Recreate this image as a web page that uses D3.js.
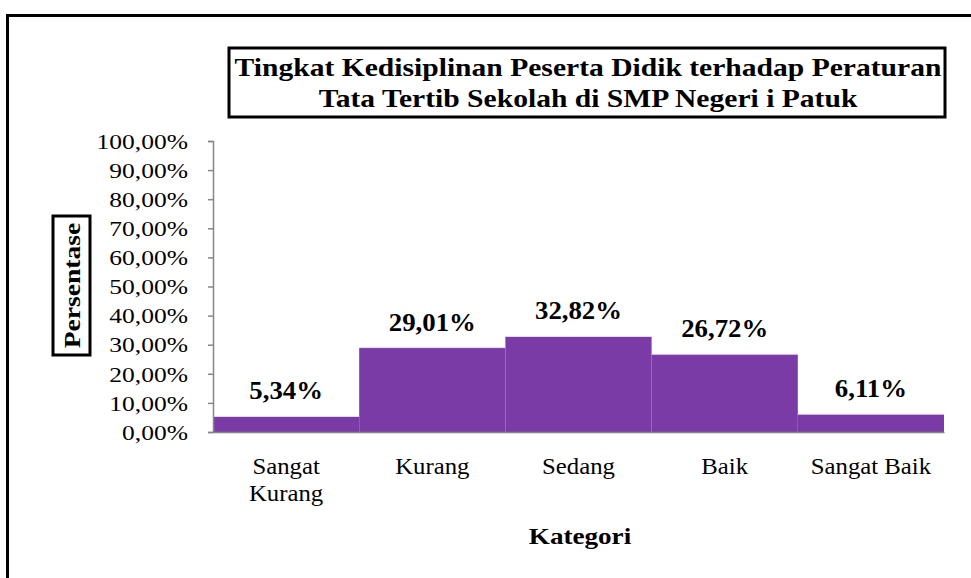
<!DOCTYPE html>
<html><head><meta charset="utf-8">
<script src="https://cdn.jsdelivr.net/npm/d3@7"></script>
<style>html,body{margin:0;padding:0;background:#fff}svg{display:block}</style>
</head><body>
<script>
const categories = [["Sangat","Kurang"],["Kurang"],["Sedang"],["Baik"],["Sangat Baik"]];
const values = [5.34, 29.01, 32.82, 26.72, 6.11];
const valueLabels = ["5,34%","29,01%","32,82%","26,72%","6,11%"];
const yTicks = [0,10,20,30,40,50,60,70,80,90,100];
const titleLines = ["Tingkat Kedisiplinan Peserta Didik terhadap Peraturan","Tata Tertib Sekolah di SMP Negeri i Patuk"];

const W=971,H=578;
const svg=d3.select("body").append("svg").attr("width",W).attr("height",H);
const font="'Liberation Serif','Times New Roman',serif";

function sText(parent,x,y,sx,txt,size,bold,rot){
  return parent.append("text")
    .attr("transform",`translate(${x},${y})`+(rot?` rotate(${rot})`:"")+` scale(${sx},1)`)
    .attr("text-anchor","middle").attr("font-family",font).attr("font-size",size)
    .attr("font-weight",bold?"bold":"normal").attr("fill","#000").text(txt);
}

// outer frame
svg.append("path").attr("d","M7.5,600 L7.5,15.5 L990,15.5").attr("fill","none").attr("stroke","#000").attr("stroke-width",3);

const x=d3.scaleBand().domain(d3.range(values.length)).range([213,944]).padding(0);
const y=d3.scaleLinear().domain([0,100]).range([432,141]);

// bars
svg.selectAll("rect.bar").data(values).enter().append("rect")
  .attr("x",(d,i)=>x(i)).attr("width",x.bandwidth())
  .attr("y",d=>y(d)).attr("height",d=>y(0)-y(d))
  .attr("fill","#7A3BA7");
svg.selectAll("line.edge").data(values).enter().append("line")
  .attr("x1",(d,i)=>x(i)).attr("x2",(d,i)=>x(i)+x.bandwidth())
  .attr("y1",d=>y(d)).attr("y2",d=>y(d)).attr("stroke","#e6dcef").attr("stroke-width",1);

// y axis
const tsx=1.16;
const yAxis=d3.axisLeft(y).tickValues(yTicks).tickSize(5).tickFormat(d=>d3.format(".2f")(d).replace(".",",")+"%");
const ga=svg.append("g").attr("transform","translate(213,0)").call(yAxis);
ga.select(".domain").attr("stroke","#868686").attr("stroke-width",1.5);
ga.selectAll(".tick line").attr("stroke","#868686").attr("stroke-width",1.5);
ga.selectAll(".tick text").attr("font-family",font).attr("font-size",22).attr("fill","#000")
  .attr("x",-25/tsx).attr("dy","0.33em").attr("transform",`scale(${tsx},1)`);

// x axis line
const xAxis=d3.axisBottom(x).tickSize(0).tickFormat("");
const gx=svg.append("g").attr("transform","translate(0,432)").call(xAxis);
gx.select(".domain").attr("stroke","#868686").attr("stroke-width",1.5);

// category labels
categories.forEach((lines,i)=>{
  lines.forEach((l,j)=>sText(svg,x(i)+x.bandwidth()/2,474+j*27,1.1,l,22.5,false));
});

// value labels
values.forEach((d,i)=>sText(svg,x(i)+x.bandwidth()/2,y(d)-17,1.05,valueLabels[i],25.5,true));

// title box
svg.append("rect").attr("x",229).attr("y",48).attr("width",716).attr("height",69)
  .attr("fill","#fff").attr("stroke","#000").attr("stroke-width",3);
titleLines.forEach((l,i)=>sText(svg,588,76+i*31,1.16,l,25.5,true));

// x axis title
sText(svg,580,544,1.13,"Kategori",24,true);

// y axis title boxed
svg.append("rect").attr("x",53).attr("y",216).attr("width",37).attr("height",139)
  .attr("fill","#fff").attr("stroke","#000").attr("stroke-width",3);
sText(svg,80,285.5,1.15,"Persentase",24,true,-90);
</script>
</body></html>
